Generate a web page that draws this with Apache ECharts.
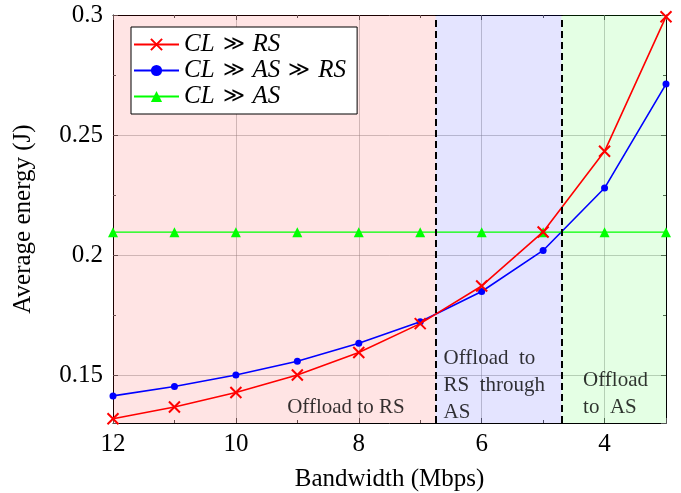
<!DOCTYPE html>
<html>
<head>
<meta charset="utf-8">
<script src="https://cdn.jsdelivr.net/npm/echarts@6/dist/echarts.min.js"></script>
<style>html,body{margin:0;padding:0;background:#fff}#c{width:681px;height:493px}</style>
</head>
<body>
<div id="c"></div>
<script>
// ---- data ----
const bandwidth = [12, 11, 10, 9, 8, 7, 6, 5, 4, 3];
const clRs      = [0.1318, 0.1367, 0.1427, 0.1500, 0.1594, 0.1714, 0.1871, 0.2096, 0.2432, 0.2993];
const clAsRs    = [0.1413, 0.1452, 0.1500, 0.1557, 0.1632, 0.1722, 0.1848, 0.2019, 0.2279, 0.2712];
const clAs      = [0.2095, 0.2095, 0.2095, 0.2095, 0.2095, 0.2095, 0.2095, 0.2095, 0.2095, 0.2095];
const seriesNames = ['CL ≫ RS', 'CL ≫ AS ≫ RS', 'CL ≫ AS'];
const regionBounds = [12, 6.75, 4.7, 3];        // bandwidth boundaries of shaded regions
const dividers = [6.75, 4.7];                    // dashed lines
const regionLabels = ['Offload to RS', 'Offload  to\nRS  through\nAS', 'Offload\nto  AS'];
const regionLabelPos = [[8.21, 0.1363], [6.62, 0.1458], [4.35, 0.1421]];
const regionLabelAlign = ['center', 'left', 'left'];
const xRange = [3, 12];
const yRange = [0.13, 0.3];

const FONT = 'Liberation Serif';
const chart = echarts.init(document.getElementById('c'), null, {renderer: 'canvas'});

function zip(xs, ys) { return xs.map((x, i) => [x, ys[i]]); }
const xFmt = v => (Math.abs(v % 2) < 1e-9 ? String(v) : '');
const yFmt = v => (Math.abs(v / 0.05 - Math.round(v / 0.05)) < 1e-6 ? String(+v.toFixed(2)) : '');

const axisCommon = {
  axisLine: {show: true, lineStyle: {color: '#000', width: 1}},
  axisTick: {show: true, inside: true, length: 5, lineStyle: {color: '#555'}},
  minorTick: {show: true, splitNumber: 2, length: 3, lineStyle: {color: '#555'}},
};

const xBase = Object.assign({type: 'value', min: xRange[0], max: xRange[1], inverse: true, splitNumber: 5}, axisCommon);
const yBase = Object.assign({type: 'value', min: yRange[0], max: yRange[1], splitNumber: 4}, axisCommon);

const areaColors = ['rgba(255,0,0,0.105)', 'rgba(0,0,255,0.105)', 'rgba(0,255,0,0.105)'];
const markAreaData = [];
for (let i = 0; i < regionBounds.length - 1; i++) {
  markAreaData.push([{xAxis: regionBounds[i], itemStyle: {color: areaColors[i]}}, {xAxis: regionBounds[i + 1]}]);
}

const legendRich = {
  i: {fontFamily: FONT, fontStyle: 'italic', fontSize: 25, lineHeight: 22, color: '#000'},
  s: {fontFamily: 'DejaVu Serif', fontSize: 21, lineHeight: 22, color: '#000', padding: [0, 8, 0, 8]}
};
const legendFmt = name => name.split(' ').map(t => t === '≫' ? '{s|≫}' : '{i|' + t + '}').join('');

const xSymbol = 'path://M0,0L10,10M10,0L0,10';

const option = {
  backgroundColor: '#fff',
  animation: false,
  textStyle: {fontFamily: FONT},
  grid: {left: 113, right: 15, top: 15, bottom: 70, containLabel: false, outerBoundsMode: 'none'},
  legend: {
    left: 131, top: 27,
    orient: 'vertical',
    data: seriesNames,
    backgroundColor: '#fff', borderColor: '#000', borderWidth: 1, borderRadius: 0,
    padding: [5, 11, 5, 2],
    itemWidth: 45, itemHeight: 14, itemGap: 1,
    formatter: legendFmt,
    textStyle: {rich: legendRich, fontFamily: FONT, fontSize: 25, lineHeight: 22}
  },
  xAxis: [
    Object.assign({}, xBase, {
      position: 'bottom',
      name: 'Bandwidth (Mbps)', nameLocation: 'middle', nameGap: 44,
      nameTextStyle: {fontFamily: FONT, fontSize: 25, color: '#000'},
      axisLabel: {formatter: xFmt, fontFamily: FONT, fontSize: 25, color: '#000', margin: 9},
      splitLine: {show: true, lineStyle: {color: 'rgba(140,140,140,0.45)', width: 1}}
    }),
    Object.assign({}, xBase, {
      position: 'top',
      axisLabel: {show: false}, splitLine: {show: false}
    })
  ],
  yAxis: [
    Object.assign({}, yBase, {
      position: 'left',
      name: 'Average energy (J)', nameLocation: 'middle', nameGap: 77, nameRotate: 90,
      nameTextStyle: {fontFamily: FONT, fontSize: 25, color: '#000'},
      axisLabel: {formatter: yFmt, fontFamily: FONT, fontSize: 25, color: '#000', margin: 10},
      splitLine: {show: true, lineStyle: {color: 'rgba(140,140,140,0.45)', width: 1}}
    }),
    Object.assign({}, yBase, {
      position: 'right',
      axisLabel: {show: false}, splitLine: {show: false}
    })
  ],
  series: [
    {
      name: 'regions', type: 'scatter', symbolSize: 1, silent: true, z: 1,
      itemStyle: {color: 'rgba(0,0,0,0)'},
      data: regionLabelPos.map((p, i) => ({
        value: p,
        label: {
          show: true, position: 'inside', formatter: regionLabels[i],
          align: regionLabelAlign[i], verticalAlign: 'middle',
          fontFamily: FONT, fontSize: 21, lineHeight: 27, color: '#000'
        }
      })),
      markArea: {silent: true, data: markAreaData},
      markLine: {
        silent: true, symbol: 'none',
        label: {show: false},
        lineStyle: {color: '#000', width: 2, type: [7, 4]},
        data: dividers.map(d => ({xAxis: d}))
      }
    },
    {
      name: seriesNames[0], type: 'line', data: zip(bandwidth, clRs),
      symbol: xSymbol, symbolSize: 11,
      lineStyle: {color: '#ff0000', width: 1.6},
      itemStyle: {color: '#ff0000', borderColor: '#ff0000', borderWidth: 2},
      z: 4
    },
    {
      name: seriesNames[1], type: 'line', data: zip(bandwidth, clAsRs),
      symbol: 'circle', symbolSize: 7,
      lineStyle: {color: '#0000ff', width: 1.6},
      itemStyle: {color: '#0000ff'},
      z: 3
    },
    {
      name: seriesNames[2], type: 'line', data: zip(bandwidth, clAs),
      symbol: 'triangle', symbolSize: 10,
      lineStyle: {color: '#00ff00', width: 1.2},
      itemStyle: {color: '#00ff00'},
      z: 3
    }
  ]
};
chart.setOption(option);
</script>
</body>
</html>
